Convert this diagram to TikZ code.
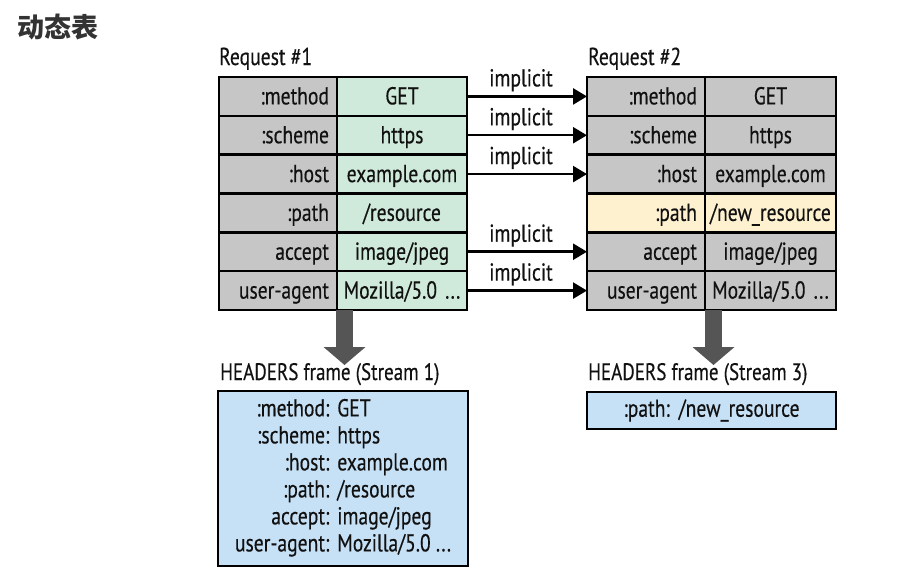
\documentclass[tikz,border=0pt]{standalone}
\usepackage{fontspec}
\setmainfont{PT Sans}[FakeStretch=0.8, FakeBold=0.35]
\newfontfamily\cjk{Noto Sans CJK SC}
\usetikzlibrary{arrows.meta,calc}
\definecolor{cgray}{HTML}{C6C6C6}
\definecolor{cgreen}{HTML}{CFEADB}
\definecolor{cyellow}{HTML}{FDF1CF}
\definecolor{cblue}{HTML}{C6E0F6}
\definecolor{carrow}{HTML}{555555}
\definecolor{ctitle}{HTML}{333333}
\definecolor{ctext}{HTML}{111111}
\tikzset{
  cell/.style={draw=black, line width=2.6pt, outer sep=0pt, inner ysep=0pt,
    minimum height=38.83pt, text height=20pt, text depth=4pt, text=ctext,
    font=\fontsize{24.5}{28}\selectfont},
  keyc/.style={cell, fill=cgray, minimum width=118pt, text width=102pt, inner xsep=8pt, align=right},
  valL/.style={cell, fill=cgreen, minimum width=130pt, text width=124pt, inner xsep=3pt, align=center},
  valR/.style={cell, fill=cgray, minimum width=131pt, text width=125pt, inner xsep=3pt, align=center},
  imp/.style={draw=black, line width=2.5pt, -{Triangle[length=14pt,width=16pt]}},
  implab/.style={pos=0.45, anchor=base, yshift=10pt, font=\fontsize{24.5}{28}\selectfont, text=ctext},
  reqtitle/.style={anchor=base west, font=\fontsize{24.5}{28}\selectfont, text=ctext, inner sep=0pt},
  hdrtitle/.style={anchor=base west, font=\fontsize{23.8}{27}\selectfont, text=ctext, inner sep=0pt},
  framebox/.style={draw=black, line width=2.6pt, fill=cblue, outer sep=0pt, text=ctext,
    font=\fontsize{24.5}{27}\selectfont},
  bigarrow/.style={draw=carrow, line width=17pt, -{Triangle[length=18pt,width=41pt]}}
}
\begin{document}
\begin{tikzpicture}[x=1pt,y=-1pt]
\useasboundingbox[fill=white] (0,0) rectangle (922,571);

\node[anchor=west, font=\cjk\bfseries\fontsize{27}{30}\selectfont, text=ctitle, inner sep=0pt] (title) at (17,27) {动态表};

\node[reqtitle] (req1) at (219,65) {Request \#1};
\node[reqtitle] (req2) at (588,65) {Request \#2};

% left table
\node[keyc, anchor=north west] (l1k) at (219,77) {:method};
\node[valL, anchor=north west] (l1v) at (l1k.north east) {GET};
\node[keyc, anchor=north] (l2k) at (l1k.south) {:scheme};
\node[valL, anchor=north west] (l2v) at (l2k.north east) {https};
\node[keyc, anchor=north] (l3k) at (l2k.south) {:host};
\node[valL, anchor=north west] (l3v) at (l3k.north east) {example.com};
\node[keyc, anchor=north] (l4k) at (l3k.south) {:path};
\node[valL, anchor=north west] (l4v) at (l4k.north east) {/resource};
\node[keyc, anchor=north] (l5k) at (l4k.south) {accept};
\node[valL, anchor=north west] (l5v) at (l5k.north east) {image/jpeg};
\node[keyc, anchor=north] (l6k) at (l5k.south) {user-agent};
\node[valL, anchor=north west] (l6v) at (l6k.north east) {Mozilla/5.0 ...};

% right table
\node[keyc, anchor=north west] (r1k) at (587,77) {:method};
\node[valR, anchor=north west] (r1v) at (r1k.north east) {GET};
\node[keyc, anchor=north] (r2k) at (r1k.south) {:scheme};
\node[valR, anchor=north west] (r2v) at (r2k.north east) {https};
\node[keyc, anchor=north] (r3k) at (r2k.south) {:host};
\node[valR, anchor=north west] (r3v) at (r3k.north east) {example.com};
\node[keyc, fill=cyellow, anchor=north] (r4k) at (r3k.south) {:path};
\node[valR, fill=cyellow, anchor=north west] (r4v) at (r4k.north east) {/new\_resource};
\node[keyc, anchor=north] (r5k) at (r4k.south) {accept};
\node[valR, anchor=north west] (r5v) at (r5k.north east) {image/jpeg};
\node[keyc, anchor=north] (r6k) at (r5k.south) {user-agent};
\node[valR, anchor=north west] (r6v) at (r6k.north east) {Mozilla/5.0 ...};

% implicit arrows
\draw[imp] (l1v.east) -- (r1k.west) node[implab] (i1) {implicit};
\draw[imp] (l2v.east) -- (r2k.west) node[implab] (i2) {implicit};
\draw[imp] (l3v.east) -- (r3k.west) node[implab] (i3) {implicit};
\draw[imp] (l5v.east) -- (r5k.west) node[implab] (i5) {implicit};
\draw[imp] (l6v.east) -- (r6k.west) node[implab] (i6) {implicit};

% headers frames
\node[hdrtitle] (h1) at (220,380) {HEADERS frame (Stream 1)};
\node[hdrtitle] (h3) at (588,380) {HEADERS frame (Stream 3)};

\node[framebox, anchor=north west, minimum width=250pt, minimum height=175pt] (b1) at (218,391)
  {\begin{tabular}{@{}r@{\hspace{8pt}}l@{}}
   :method: & GET\\
   :scheme: & https\\
   :host: & example.com\\
   :path: & /resource\\
   accept: & image/jpeg\\
   user-agent: & Mozilla/5.0 ...
   \end{tabular}};
\node[framebox, anchor=north west, minimum width=249pt, minimum height=37pt] (b3) at (587,392)
  {:path:\hspace{9pt}/new\_resource};

% big arrows
\coordinate (a1s) at ($(l6k.south east)+(7.5,0)$);
\coordinate (a1e) at (344.5,365);
\coordinate (a3s) at ($(r6k.south east)+(8.5,0)$);
\coordinate (a3e) at (713.5,365);
\draw[bigarrow] (a1s) -- (a1e);
\draw[bigarrow] (a3s) -- (a3e);
\end{tikzpicture}
\end{document}
